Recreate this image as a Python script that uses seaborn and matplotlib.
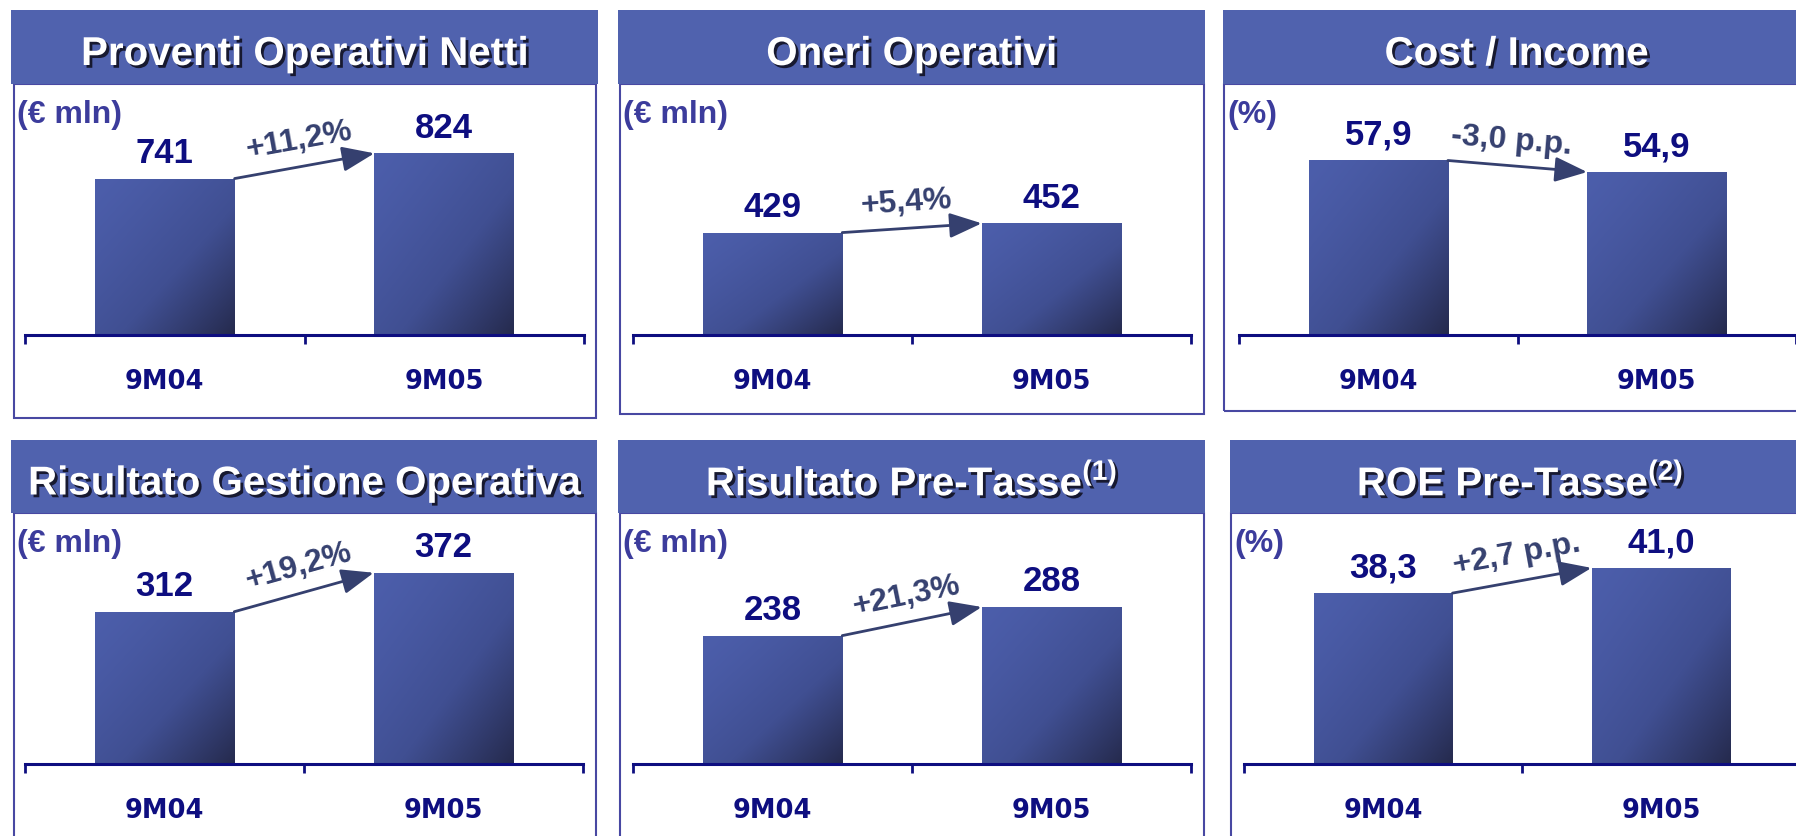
import numpy as np
import matplotlib
import matplotlib.pyplot as plt
import matplotlib.patheffects as pe
import seaborn as sns
from matplotlib.patches import Rectangle
from matplotlib.colors import LinearSegmentedColormap

# data
periods = ["9M04", "9M05"]
proventi = [741, 824]
oneri = [429, 452]
cost_income = [57.9, 54.9]
gestione = [312, 372]
pre_tasse = [238, 288]
roe = [38.3, 41.0]
series = [proventi, oneri, cost_income, gestione, pre_tasse, roe]
titles = ["Proventi Operativi Netti", "Oneri Operativi", "Cost / Income",
          "Risultato Gestione Operativa", r"Risultato Pre-Tasse$^{(1)}$",
          r"ROE Pre-Tasse$^{(2)}$"]
units = ["(€ mln)", "(€ mln)", "(%)", "(€ mln)", "(€ mln)", "(%)"]
changes = ["+11,2%", "+5,4%", "-3,0 p.p.", "+19,2%", "+21,3%", "+2,7 p.p."]
decimals = [0, 0, 1, 0, 0, 1]

sns.set_style("white")
plt.rcParams['font.family'] = ['Liberation Sans', 'DejaVu Sans']
plt.rcParams['mathtext.fontset'] = 'custom'
plt.rcParams['mathtext.rm'] = 'Liberation Sans:bold'
plt.rcParams['mathtext.bf'] = 'Liberation Sans:bold'

W, H = 1796, 837
fig = plt.figure(figsize=(W / 100, H / 100), dpi=100)
fig.patch.set_facecolor('white')

header_col = '#5062ae'
frame_col = '#4848a2'
navy = '#0e0e80'
unit_col = '#3c3c9c'
delta_col = '#35406f'
bar_cmap = LinearSegmentedColormap.from_list('bar', ['#4c5eab', '#404f92', '#252a4d'])


def fx(x):
    return x / W


def fy(y):
    return 1 - y / H


# panel geometry in pixels: header box, frame, axis line x-range and baseline
layout = [
    dict(head=(11, 598, 11, 85), box=(14, 596, 419), axis=(25, 584, 336), top=95, ylim=(226.5, 1019)),
    dict(head=(618, 1205, 11, 85), box=(620, 1204, 415), axis=(633, 1191, 336), top=95, ylim=(174, 774)),
    dict(head=(1223, 1810, 11, 85), box=(1224, 1810, 412), axis=(1239, 1796, 336), top=95, ylim=(12.5, 75.2)),
    dict(head=(11, 597, 441, 514), box=(14, 596, 850), axis=(25, 583, 765), top=525, ylim=(77.7, 447)),
    dict(head=(618, 1205, 441, 514), box=(620, 1204, 850), axis=(633, 1191, 765), top=525, ylim=(13.7, 433)),
    dict(head=(1230, 1810, 441, 514), box=(1231, 1810, 850), axis=(1244, 1800, 765), top=525, ylim=(20, 45.7)),
]

n = 200
gx, gy = np.meshgrid(np.linspace(0, 1, n), np.linspace(0, 1, n))
grad = ((gx + gy) / 2) ** 1.3

for k, lay in enumerate(layout):
    hx0, hx1, hy0, hy1 = lay['head']
    bx0, bx1, by1 = lay['box']
    fig.patches.append(Rectangle((fx(bx0), fy(by1)), fx(bx1) - fx(bx0), fy(hy1) - fy(by1),
                                 transform=fig.transFigure, fill=False, ec=frame_col, lw=1.5, zorder=1))
    fig.patches.append(Rectangle((fx(hx0), fy(hy1)), fx(hx1) - fx(hx0), fy(hy0) - fy(hy1),
                                 transform=fig.transFigure, fc=header_col, ec='none', zorder=2))
    fig.text(fx((hx0 + hx1) / 2), fy((hy0 + hy1) / 2 + 7), titles[k], ha='center', va='center',
             fontsize=29, fontweight='bold', color='white', zorder=3,
             path_effects=[pe.withSimplePatchShadow(offset=(2, -2), shadow_rgbFace='#111122', alpha=0.9)])
    fig.text(fx(bx0 + 3), fy(hy1 + 30), units[k], ha='left', va='center',
             fontsize=23, fontweight='bold', color=unit_col)

    ax0, ax1, base = lay['axis']
    ax = fig.add_axes([fx(ax0), fy(base), fx(ax1) - fx(ax0), fy(lay['top']) - fy(base)])
    ax.patch.set_alpha(0)
    vals = series[k]
    sns.barplot(x=periods, y=vals, ax=ax, width=0.5, color=header_col, saturation=1)

    ylo, yhi = lay['ylim']
    for p in ax.patches:
        x0, w, h = p.get_x(), p.get_width(), p.get_height()
        p.set_facecolor('none')
        p.set_edgecolor('none')
        im = ax.imshow(grad, extent=(x0, x0 + w, ylo, h), origin='upper', cmap=bar_cmap,
                       aspect='auto', interpolation='bilinear', zorder=2)
        im.set_clip_path(p)

    ax.set_xlim(-0.5, 1.5)
    ax.set_ylim(ylo, yhi)
    for s in ['top', 'left', 'right']:
        ax.spines[s].set_visible(False)
    ax.spines['bottom'].set_color(navy)
    ax.spines['bottom'].set_linewidth(2.2)
    ax.set_yticks([])
    ax.set_xticks([0, 1])
    ax.set_xticklabels(periods, fontsize=18.5, fontweight='bold', color=navy, family='DejaVu Sans')
    ax.tick_params(axis='x', which='major', length=0, pad=24)
    ax.set_xticks([-0.5, 0.5, 1.5], minor=True)
    ax.tick_params(axis='x', which='minor', bottom=True, length=6.5, width=2, color=navy,
                   direction='out')
    ax.set_xlabel('')
    ax.set_ylabel('')

    for i, v in enumerate(vals):
        lab = f"{v:.{decimals[k]}f}".replace('.', ',')
        ax.annotate(lab, xy=(i, v), xytext=(0, 12), textcoords='offset points', ha='center',
                    va='baseline', fontsize=25, fontweight='bold', color=navy, annotation_clip=False)

    # change arrow between the bars
    xa, xb = 0.25, 0.75
    ax.annotate('', xy=(xb, vals[1]), xytext=(xa, vals[0]), annotation_clip=False,
                arrowprops=dict(arrowstyle='-|>,head_length=0.9,head_width=0.35', color=delta_col,
                                lw=2, mutation_scale=22, shrinkA=0, shrinkB=0))
    p1 = ax.transData.transform((xa, vals[0]))
    p2 = ax.transData.transform((xb, vals[1]))
    ang = np.degrees(np.arctan2(p2[1] - p1[1], p2[0] - p1[0]))
    ax.annotate(changes[k], xy=((xa + xb) / 2, (vals[0] + vals[1]) / 2), xytext=(-4, 19),
                textcoords='offset points', ha='center', va='center', rotation=ang,
                rotation_mode='anchor', fontsize=23, fontweight='bold', color=delta_col,
                annotation_clip=False)

fig.savefig('out.png', dpi=100)
